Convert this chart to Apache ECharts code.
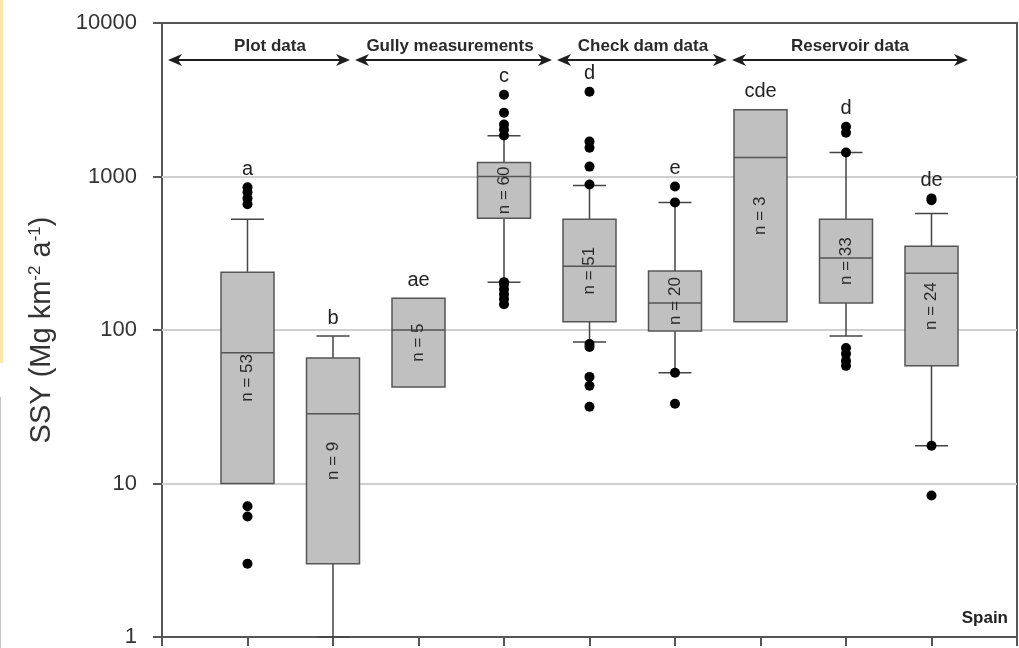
<!DOCTYPE html>
<html><head><meta charset="utf-8">
<script src="https://cdn.jsdelivr.net/npm/echarts@6/dist/echarts.min.js"></script>
<style>html,body{margin:0;padding:0;background:#fff}#c{width:1019px;height:648px}</style>
</head><body><div id="c"></div>
<script>
// ---- data ----
const groups = ['Plot 1','Plot 2','Gully 1','Gully 2','Check dam 1','Check dam 2','Reservoir 1','Reservoir 2','Reservoir 3'];
const letters = ['a','b','ae','c','d','e','cde','d','de'];
const nCounts = [53, 9, 5, 60, 51, 20, 3, 33, 24];
const whiskerLow  = [10, 1, 42.6, 205, 83.6, 52.6, 113, 91.4, 17.6];
const q1          = [10, 3.0, 42.6, 534, 113, 98.6, 113, 150, 58.4];
const median      = [71, 28.5, 100, 1000, 260, 150, 1328, 294, 234];
const q3          = [238, 65.8, 161, 1233, 526, 242, 2724, 526, 351];
const whiskerHigh = [526, 91.4, 161, 1846, 874, 678, 2724, 1432, 575];
const outliers = [
  [850, 790, 720, 660, 7.1, 6.1, 3.0],
  [],
  [],
  [3410, 2600, 2180, 2020, 1850, 205, 199, 184, 171, 159, 147],
  [3565, 1690, 1540, 1160, 887, 81, 77.6, 49.5, 43.3, 31.6],
  [861, 678, 52.6, 33.1],
  [],
  [2110, 1930, 1432, 76.4, 69.9, 62.9, 58.4],
  [720, 700, 17.6, 8.36]
];
const yTickLabels = ['1','10','100','1000','10000'];
const sectionNames = ['Plot data','Gully measurements','Check dam data','Reservoir data'];
const regionLabel = 'Spain';

// ---- layout constants (pixels) ----
const FONT = '"Liberation Sans", Arial, sans-serif';
const sectionLayout = [[168, 350, 270], [355, 552, 450], [557, 727, 643], [732, 968, 850]];
const arrowY = 60, sectionLabelY = 46;

const boxData = groups.map((g, i) => [i + 1, whiskerLow[i], q1[i], median[i], q3[i], whiskerHigh[i], nCounts[i]]);
const dotData = [];
outliers.forEach((arr, i) => arr.forEach(v => dotData.push([i + 1, v])));
const letterData = groups.map((g, i) => [i + 1, Math.max(whiskerHigh[i], q3[i], ...(outliers[i].length ? outliers[i] : [0]))]);

const chart = echarts.init(document.getElementById('c'));

function arrow(x1, x2, y) {
  const c = '#1e1e1e';
  return [
    { type: 'line', shape: { x1: x1 + 6, y1: y, x2: x2 - 6, y2: y }, style: { stroke: c, lineWidth: 2 } },
    { type: 'polygon', shape: { points: [[x1, y], [x1 + 14, y - 6], [x1 + 10, y], [x1 + 14, y + 6]] }, style: { fill: c } },
    { type: 'polygon', shape: { points: [[x2, y], [x2 - 14, y - 6], [x2 - 10, y], [x2 - 14, y + 6]] }, style: { fill: c } }
  ];
}
const graphics = [];
sectionLayout.forEach((s, i) => {
  arrow(s[0], s[1], arrowY).forEach(g => graphics.push(g));
  graphics.push({ type: 'text', x: s[2], y: sectionLabelY, style: { text: sectionNames[i], font: 'bold 17px ' + FONT, fill: '#2a2a2a', align: 'center', verticalAlign: 'middle' } });
});
graphics.push({ type: 'text', x: 1008, y: 618, style: { text: regionLabel, font: 'bold 17px ' + FONT, fill: '#222', align: 'right', verticalAlign: 'middle' } });
graphics.push({ type: 'rect', shape: { x: 0, y: 0, width: 3, height: 363 }, style: { fill: '#fde4a8' } });
graphics.push({ type: 'line', shape: { x1: 0.5, y1: 397, x2: 0.5, y2: 648 }, style: { stroke: '#c4c4c4', lineWidth: 1 } });

chart.setOption({
  animation: false,
  backgroundColor: '#fff',
  grid: { left: 162, right: 2, top: 23, bottom: 9, show: true, borderColor: '#555', borderWidth: 2, backgroundColor: 'transparent' },
  xAxis: {
    type: 'value', min: 0, max: 10, interval: 1,
    axisLine: { show: false },
    axisTick: { show: true, length: 9, lineStyle: { color: '#555', width: 2 } },
    axisLabel: { show: false },
    splitLine: { show: false }
  },
  yAxis: {
    type: 'log', logBase: 10, min: 1, max: 10000,
    axisLine: { show: false },
    axisTick: { show: true, length: 9, lineStyle: { color: '#555', width: 2 } },
    axisLabel: { fontSize: 22, color: '#333', fontFamily: FONT, margin: 25,
      formatter: v => yTickLabels[Math.round(Math.log10(v))] },
    splitLine: { show: true, lineStyle: { color: ['rgba(0,0,0,0)', '#cfcfcf', '#cfcfcf', '#cfcfcf', 'rgba(0,0,0,0)'], width: 2 } },
    name: '{m|SSY (Mg km}{s|-2}{m| a}{s|-1}{m|)}',
    nameLocation: 'middle', nameRotate: 90, nameGap: 106,
    nameTextStyle: {
      rich: {
        m: { fontSize: 29, fontFamily: FONT, color: '#333' },
        s: { fontSize: 17, fontFamily: FONT, color: '#333', verticalAlign: 'top' }
      }
    }
  },
  graphic: graphics,
  series: [
    {
      type: 'custom', data: boxData, z: 2,
      renderItem: function (params, api) {
        const x = api.value(0);
        const c = v => api.coord([x, v]);
        const pl = c(api.value(1)), p1 = c(api.value(2)), pm = c(api.value(3)), p3 = c(api.value(4)), ph = c(api.value(5));
        const cx = pm[0];
        const hw = 26.5, cw = 16.5;
        const ls = { stroke: '#444', lineWidth: 1.5 };
        const ch = [];
        if (ph[1] < p3[1] - 0.5) {
          ch.push({ type: 'line', shape: { x1: cx, y1: p3[1], x2: cx, y2: ph[1] }, style: ls });
          ch.push({ type: 'line', shape: { x1: cx - cw, y1: ph[1], x2: cx + cw, y2: ph[1] }, style: ls });
        }
        if (pl[1] > p1[1] + 0.5) {
          ch.push({ type: 'line', shape: { x1: cx, y1: p1[1], x2: cx, y2: pl[1] }, style: ls });
          ch.push({ type: 'line', shape: { x1: cx - cw, y1: pl[1], x2: cx + cw, y2: pl[1] }, style: ls });
        }
        ch.push({ type: 'rect', shape: { x: cx - hw, y: p3[1], width: 2 * hw, height: p1[1] - p3[1] }, style: { fill: '#c0c0c0', stroke: '#555', lineWidth: 1.5 } });
        ch.push({ type: 'line', shape: { x1: cx - hw, y1: pm[1], x2: cx + hw, y2: pm[1] }, style: { stroke: '#555', lineWidth: 1.5 } });
        ch.push({ type: 'text', x: cx, y: (p1[1] + p3[1]) / 2, rotation: Math.PI / 2,
          style: { text: 'n = ' + api.value(6), font: '17px ' + FONT, fill: '#2a2a2a', align: 'center', verticalAlign: 'middle' } });
        return { type: 'group', children: ch };
      }
    },
    {
      type: 'scatter', data: dotData, symbol: 'circle', symbolSize: 10, z: 5,
      itemStyle: { color: '#000', opacity: 1 }
    },
    {
      type: 'custom', data: letterData, z: 6,
      renderItem: function (params, api) {
        const p = api.coord([api.value(0), api.value(1)]);
        return { type: 'text', x: p[0], y: p[1] - 18,
          style: { text: letters[params.dataIndex], font: '20px ' + FONT, fill: '#222', align: 'center', verticalAlign: 'middle' } };
      }
    }
  ]
});
</script>
</body></html>
